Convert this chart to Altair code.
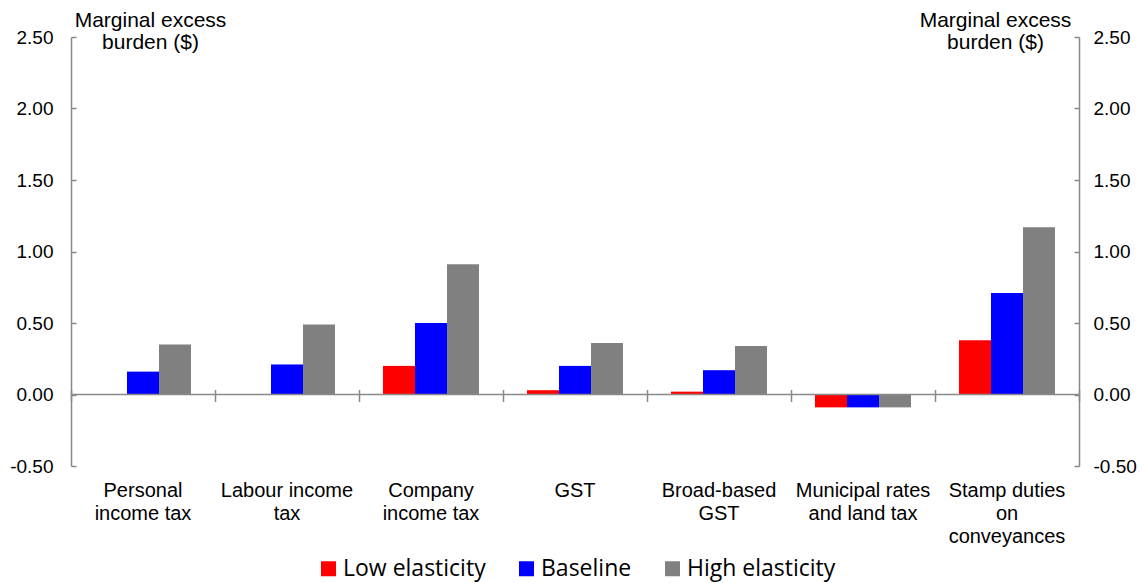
import altair as alt
import pandas as pd

categories = ["Personal\nincome tax", "Labour income\ntax", "Company\nincome tax", "GST",
              "Broad-based\nGST", "Municipal rates\nand land tax", "Stamp duties\non\nconveyances"]
series = ["Low elasticity", "Baseline", "High elasticity"]
low = [0.0, 0.0, 0.20, 0.03, 0.02, -0.09, 0.38]
baseline = [0.16, 0.21, 0.50, 0.20, 0.17, -0.09, 0.71]
high = [0.35, 0.49, 0.91, 0.36, 0.34, -0.09, 1.17]
colors = ["#FF0000", "#0000FF", "#808080"]
y_ticks = [-0.5, 0.0, 0.5, 1.0, 1.5, 2.0, 2.5]
y_title = ["Marginal excess", "burden ($)"]

rows = []
for s, vals in zip(series, [low, baseline, high]):
    for c, v in zip(categories, vals):
        rows.append({"category": c, "series": s, "value": v})
df = pd.DataFrame(rows)

AX = "#898989"
FONT = "Liberation Sans"
ylab = "datum.value < 0 ? '-' + format(-datum.value, '.2f') : format(datum.value, '.2f')"


def yscale():
    return alt.Scale(domain=[-0.5, 2.5], nice=False, zero=False)


def xscale():
    return alt.Scale(paddingInner=0, paddingOuter=0)


base = alt.Chart(df)

bars = base.mark_bar().encode(
    x=alt.X("category:N", sort=categories, scale=xscale(), title=None,
            axis=alt.Axis(orient="bottom", domain=False, ticks=False, labelAngle=0,
                          labelExpr="split(datum.label, '\\n')", labelPadding=14,
                          labelFontSize=20, labelLineHeight=23, labelFont=FONT,
                          labelColor="black", labelBaseline="top", labelLimit=300)),
    xOffset=alt.XOffset("series:N", sort=series,
                        scale=alt.Scale(paddingInner=0, paddingOuter=0.75)),
    y=alt.Y("value:Q", scale=yscale(),
            axis=alt.Axis(orient="left", values=y_ticks, ticks=False, domain=True,
                          domainColor=AX, domainWidth=1.5, grid=False,
                          labelExpr=ylab, labelPadding=18, labelFontSize=19,
                          labelFont=FONT, labelColor="black",
                          title=y_title, titleAngle=0, titleX=79, titleY=-11,
                          titleAlign="center", titleBaseline="alphabetic",
                          titleFontWeight="normal", titleFontSize=21, titleFont=FONT,
                          titleLineHeight=22, titleColor="black")),
    color=alt.Color("series:N", sort=series,
                    scale=alt.Scale(domain=series, range=colors),
                    legend=alt.Legend(orient="none", legendX=246, legendY=520,
                                      direction="horizontal", title=None,
                                      symbolType="square", symbolSize=225,
                                      symbolStrokeWidth=0, labelFont="Open Sans",
                                      labelFontSize=23, labelColor="black",
                                      labelOffset=3, columnPadding=29, labelLimit=400)),
)

left_ticks = base.mark_point(opacity=0).encode(
    y=alt.Y("value:Q", scale=yscale(),
            axis=alt.Axis(orient="left", values=y_ticks, offset=-5, ticks=True, tickSize=5,
                          tickColor=AX, tickWidth=1.5, domain=False, labels=False,
                          grid=False, title=None)),
)

right_axis = base.mark_point(opacity=0).encode(
    y=alt.Y("value:Q", scale=yscale(),
            axis=alt.Axis(orient="right", values=y_ticks, ticks=False, domain=True,
                          domainColor=AX, domainWidth=1.5, grid=False,
                          labelExpr=ylab, labelPadding=14, labelFontSize=19,
                          labelFont=FONT, labelColor="black",
                          title=y_title, titleAngle=0, titleX=-84, titleY=-11,
                          titleAlign="center", titleBaseline="alphabetic",
                          titleFontWeight="normal", titleFontSize=21, titleFont=FONT,
                          titleLineHeight=22, titleColor="black")),
)

right_ticks = base.mark_point(opacity=0).encode(
    y=alt.Y("value:Q", scale=yscale(),
            axis=alt.Axis(orient="right", values=y_ticks, offset=-5, ticks=True, tickSize=5,
                          tickColor=AX, tickWidth=1.5, domain=False, labels=False,
                          grid=False, title=None)),
)

x_ticks = base.mark_point(opacity=0).encode(
    x=alt.X("category:N", sort=categories, scale=xscale(), title=None,
            axis=alt.Axis(orient="bottom", offset=-76.5, domain=False, labels=False,
                          ticks=True, tickBand="extent", tickSize=12, tickColor=AX,
                          tickWidth=1.5, grid=False)),
    y=alt.Y("value:Q", scale=yscale(), axis=None),
)

zero = alt.Chart(df).mark_rule(color=AX, strokeWidth=1.5).encode(
    y=alt.Y("z:Q", scale=yscale(), axis=None),
).transform_calculate(z="0").transform_aggregate(z="min(z)")

chart = alt.layer(bars, left_ticks, right_axis, right_ticks, x_ticks, zero).resolve_scale(
    x="independent", y="independent"
).resolve_axis(x="independent", y="independent").properties(
    width=1008, height=429,
    autosize=alt.AutoSizeParams(type="none"),
    padding={"left": 63, "top": 29, "right": 58, "bottom": 117},
).configure_view(stroke=None)

chart.save("out.html", embed_options={"renderer": "svg", "actions": False})
